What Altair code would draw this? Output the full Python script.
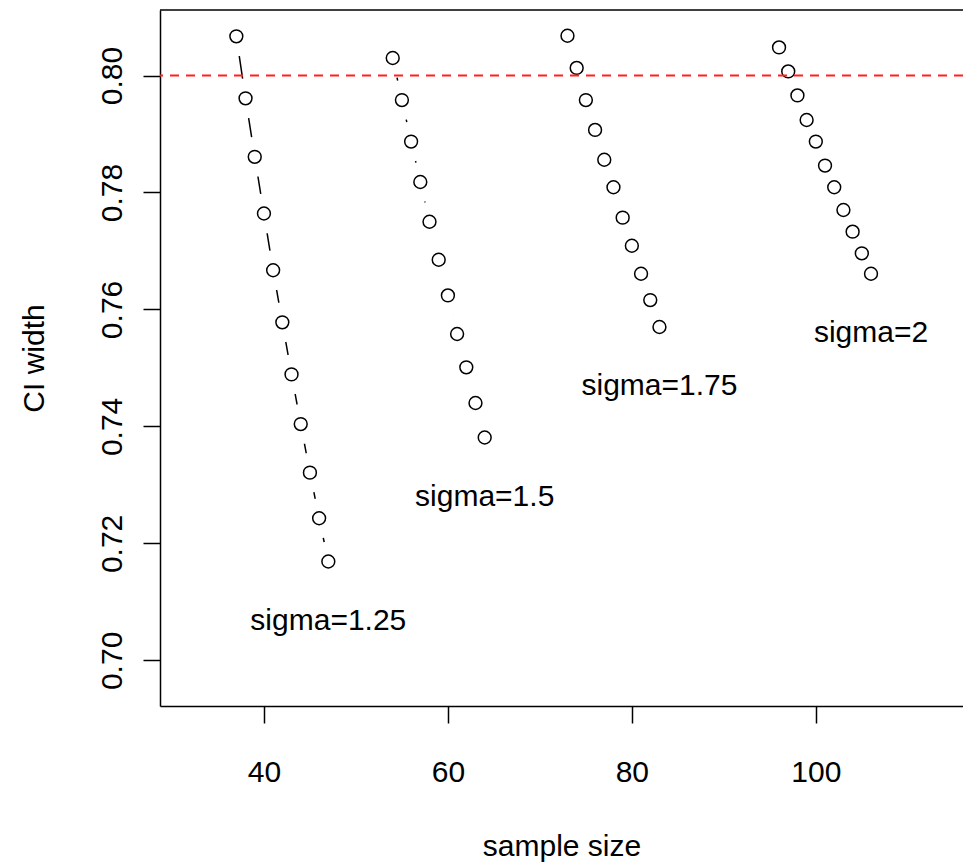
import altair as alt
import pandas as pd

# ---- data ----
sigma_names = ["1.25", "1.5", "1.75", "2"]

n_125 = [37, 38, 39, 40, 41, 42, 43, 44, 45, 46, 47]
ci_125 = [0.8067, 0.7961, 0.7861, 0.7764, 0.7667, 0.7578, 0.7489, 0.7404, 0.7321, 0.7243, 0.7169]

n_150 = [54, 55, 56, 57, 58, 59, 60, 61, 62, 63, 64]
ci_150 = [0.8030, 0.7958, 0.7887, 0.7818, 0.7750, 0.7685, 0.7624, 0.7558, 0.7501, 0.7440, 0.7381]

n_175 = [73, 74, 75, 76, 77, 78, 79, 80, 81, 82, 83]
ci_175 = [0.8068, 0.8013, 0.7958, 0.7907, 0.7856, 0.7809, 0.7757, 0.7709, 0.7661, 0.7616, 0.7570]

n_200 = [96, 97, 98, 99, 100, 101, 102, 103, 104, 105, 106]
ci_200 = [0.8048, 0.8007, 0.7966, 0.7924, 0.7887, 0.7846, 0.7809, 0.7770, 0.7733, 0.7696, 0.7661]

target_width = 0.80
label_drop = 0.01  # labels sit 0.01 below the last point of each series

x_ticks = [40, 60, 80, 100]
y_ticks = [0.70, 0.72, 0.74, 0.76, 0.78, 0.80]

# ---- build tables ----
all_n = [n_125, n_150, n_175, n_200]
all_ci = [ci_125, ci_150, ci_175, ci_200]
rows = []
for s, ns, cs in zip(sigma_names, all_n, all_ci):
    for n, c in zip(ns, cs):
        rows.append({"sigma": s, "n": n, "ci": c})
df = pd.DataFrame(rows)

lab = pd.DataFrame({
    "label": ["sigma=" + s for s in sigma_names],
    "n": [ns[-1] for ns in all_n],
    "ci": [cs[-1] - label_drop for cs in all_ci],
})
ref = pd.DataFrame({"ci": [target_width]})

FONT = "Liberation Sans"
W, H = 803, 696

xscale = alt.Scale(domain=[28.7, 116.0], nice=False, zero=False)
yscale = alt.Scale(domain=[0.6922, 0.8112], nice=False, zero=False)

xaxis = alt.Axis(values=x_ticks, title="sample size", grid=False,
                 tickSize=17, tickWidth=1.5, tickColor="black",
                 domainColor="black", domainWidth=1.5,
                 labelFont=FONT, labelFontSize=30, labelColor="black",
                 labelBaseline="alphabetic", labelPadding=58,
                 labelFlush=False, labelOverlap=False,
                 titleFont=FONT, titleFontSize=30, titleFontWeight="normal",
                 titleColor="black", titleBaseline="alphabetic", titleY=149)
yaxis = alt.Axis(values=y_ticks, format=".2f", title="CI width", grid=False,
                 tickSize=17, tickWidth=1.5, tickColor="black",
                 domainColor="black", domainWidth=1.5,
                 labelFont=FONT, labelFontSize=30, labelColor="black",
                 labelAngle=-90, labelAlign="center", labelBaseline="alphabetic",
                 labelPadding=22, labelFlush=False, labelOverlap=False,
                 titleFont=FONT, titleFontSize=30, titleFontWeight="normal",
                 titleColor="black", titleAngle=-90, titleAlign="center",
                 titleBaseline="alphabetic", titleX=-117, titleY=H / 2)

X = alt.X("n:Q", scale=xscale, axis=xaxis)
Y = alt.Y("ci:Q", scale=yscale, axis=yaxis)
Xn = alt.X("n:Q", scale=xscale)
Yn = alt.Y("ci:Q", scale=yscale)

base = alt.Chart(df)
lines = base.mark_line(color="black", strokeWidth=1.5).encode(x=X, y=Y, detail="sigma:N")
mask = base.mark_circle(color="white", size=1600, opacity=1).encode(x=Xn, y=Yn)
pts = base.mark_point(shape="circle", filled=False, size=165, strokeWidth=1.5,
                      color="black", opacity=1).encode(x=Xn, y=Yn)
hline = alt.Chart(ref).mark_rule(color="#ff2020", strokeDash=[9, 7], strokeWidth=2).encode(y=Yn)
texts = alt.Chart(lab).mark_text(font=FONT, fontSize=30, color="black", align="center",
                                 baseline="alphabetic", dy=10).encode(x=Xn, y=Yn, text="label:N")
top_border = alt.Chart(ref).mark_rule(color="black", strokeWidth=1.5).encode(
    x=alt.value(0), x2=alt.value(W), y=alt.value(0))

chart = alt.layer(lines, mask, pts, hline, texts, top_border).properties(
    width=W, height=H,
    padding={"left": 160, "top": 10, "right": 0, "bottom": 157},
    autosize=alt.AutoSizeParams(type="none"),
    background="white",
).configure_view(stroke=None)

chart.save("out.html", embed_options={"renderer": "svg", "actions": False})
